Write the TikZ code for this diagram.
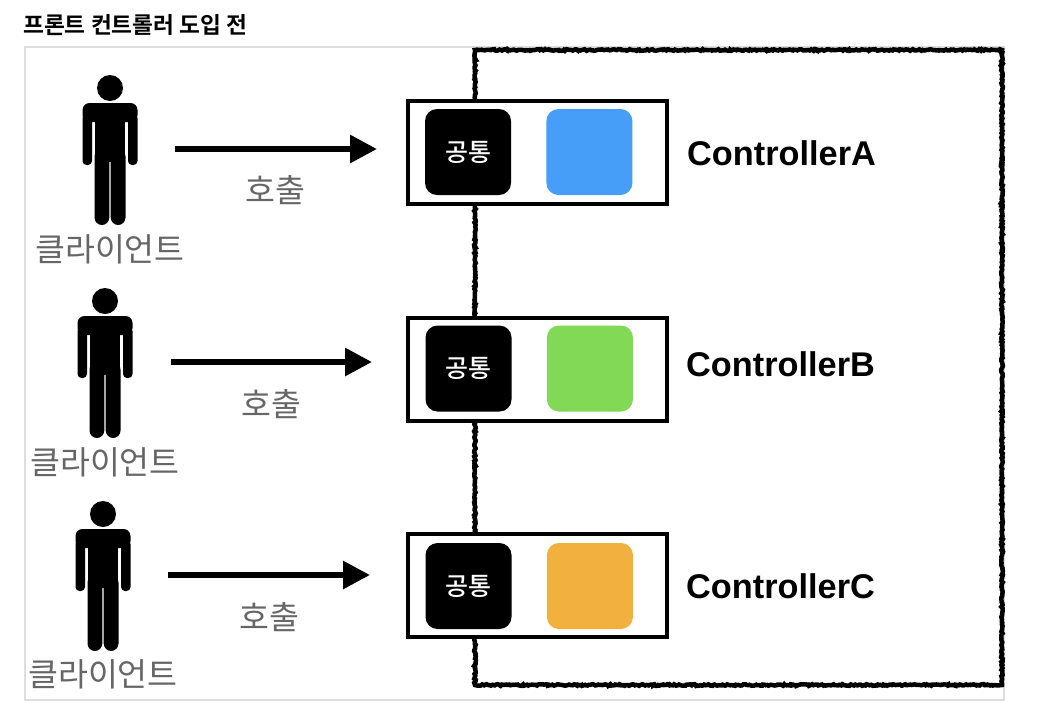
\documentclass[tikz,border=0pt]{standalone}
\usepackage{fontspec}
\setmainfont{Noto Sans CJK KR}
\newfontfamily\ctrlfont{Liberation Sans Bold}
\newfontfamily\krbold{Noto Sans CJK KR Bold}
\newfontfamily\krmedium{Noto Sans CJK KR Medium}
\usetikzlibrary{positioning,arrows.meta,decorations.pathmorphing}

\begin{document}
\begin{tikzpicture}[x=1pt,y=-1pt,>={Triangle[length=27pt,width=27pt]}]
	\tikzset{
		controllerbox/.style={rectangle, draw=black, line width=4pt, fill=white, minimum width=259pt, minimum height=103pt},
		commonbox/.style={rectangle, rounded corners=12pt, fill=black, text=white, minimum width=86pt, minimum height=86pt, font=\krmedium\fontsize{25}{27}\selectfont},
		colorbox/.style={rectangle, rounded corners=12pt, minimum width=86pt, minimum height=86pt},
		personbox/.style={rectangle, minimum width=56pt, minimum height=148pt, inner sep=0pt},
		clientlabel/.style={text=black!60, inner sep=0pt, font=\fontsize{32.5}{34}\selectfont},
		calllabel/.style={text=black!60, inner sep=0pt, font=\fontsize{32.5}{34}\selectfont},
		controllerlabel/.style={right, inner sep=0pt, font=\ctrlfont\fontsize{34.3}{36}\selectfont},
		call/.style={line width=6pt,->},
		person/.pic={
			\fill (0,-61) circle (13);
			\fill[rounded corners=7pt] (-27.5,-27) -- (-27.5,-46) -- (27.5,-46) -- (27.5,-27) -- cycle;
			\fill[rounded corners=4pt] (-27.5,-35) rectangle (-18,16);
			\fill[rounded corners=4pt] (18,-35) rectangle (27.5,16);
			\fill (-15,-40) rectangle (15,13);
			\fill[rounded corners=7.5pt] (-15.5,0) rectangle (-0.7,76);
			\fill[rounded corners=7.5pt] (0.7,0) rectangle (15.5,76);
		},
	}
	\definecolor{ctrlblue}{HTML}{479EF9}
	\definecolor{ctrlgreen}{HTML}{82D955}
	\definecolor{ctrlorange}{HTML}{F2B13E}
	\useasboundingbox (0,0) rectangle (1052,702);
	\node[right, inner sep=0pt, font=\krbold\fontsize{22.7}{25}\selectfont] (title) at (23,25) {프론트 컨트롤러 도입 전};
	\draw[black!13, line width=2pt] (25,47) rectangle (1004,700);
	\draw[line width=4.5pt, decorate, decoration={random steps, segment length=1.5pt, amplitude=0.8pt}] (475,50) rectangle (1002,685);
	%controllers
	\node[controllerbox] (boxA) at (537.5,152) {};
	\node[controllerbox] (boxB) at (537.5,369) {};
	\node[controllerbox] (boxC) at (537.5,585) {};
	\node[commonbox] (commonA) at (468,152) {공통};
	\node[commonbox] (commonB) at (468.5,368.5) {공통};
	\node[commonbox] (commonC) at (468.5,586) {공통};
	\node[colorbox, fill=ctrlblue, right=35pt of commonA] (colorA) {};
	\node[colorbox, fill=ctrlgreen, right=35pt of commonB] (colorB) {};
	\node[colorbox, fill=ctrlorange, right=35pt of commonC] (colorC) {};
	\node[controllerlabel] (nameA) at (687,153) {ControllerA};
	\node[controllerlabel] (nameB) at (686,364) {ControllerB};
	\node[controllerlabel] (nameC) at (686,586) {ControllerC};
	%clients
	\node[personbox] (personA) at (110,149) {};
	\node[personbox] (personB) at (105,362) {};
	\node[personbox] (personC) at (103,575) {};
	\pic at (personA) {person};
	\pic at (personB) {person};
	\pic at (personC) {person};
	\node[clientlabel] (clientA) at (110,249) {클라이언트};
	\node[clientlabel] (clientB) at (105,462) {클라이언트};
	\node[clientlabel] (clientC) at (103,674) {클라이언트};
	%draw arrows
	\draw[call, shorten <=37pt, shorten >=29pt] (personA.east) -- (personA.east -| boxA.west);
	\draw[call, shorten <=38pt, shorten >=34pt] (personB.east) -- (personB.east -| boxB.west);
	\draw[call, shorten <=37pt, shorten >=36pt] (personC.east) -- (personC.east -| boxC.west);
	\node[calllabel] (callA) at (275,190) {호출};
	\node[calllabel] (callB) at (271,404) {호출};
	\node[calllabel] (callC) at (269,617) {호출};
\end{tikzpicture}
\end{document}
